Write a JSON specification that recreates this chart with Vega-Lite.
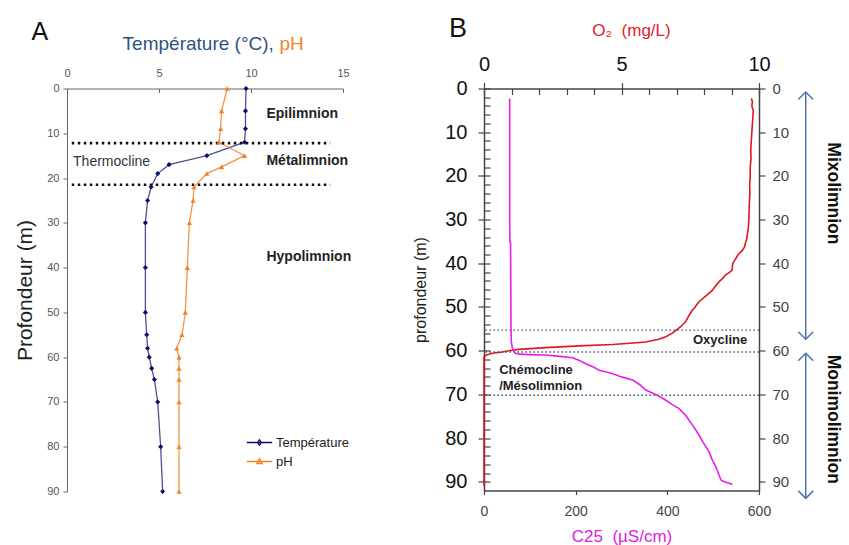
{
  "$schema": "https://vega.github.io/schema/vega-lite/v6.json",
  "background": "white",
  "padding": {"left": 14, "top": 14.5, "right": 0, "bottom": 0},
  "config": {
    "font": "Liberation Sans",
    "view": {"stroke": null},
    "axis": {"grid": false, "labelFlush": false, "labelOverlap": false, "titleFontWeight": "normal"},
    "text": {"font": "Liberation Sans"}
  },
  "bounds": "flush",
  "spacing": 141,
  "datasets": {
    "profileA": [
      {"depth": 0, "param": "Température", "value": 9.73},
      {"depth": 5, "param": "Température", "value": 9.7},
      {"depth": 9, "param": "Température", "value": 9.7},
      {"depth": 12, "param": "Température", "value": 9.65},
      {"depth": 15, "param": "Température", "value": 7.6},
      {"depth": 17, "param": "Température", "value": 5.55},
      {"depth": 19, "param": "Température", "value": 4.93},
      {"depth": 22, "param": "Température", "value": 4.57},
      {"depth": 25, "param": "Température", "value": 4.38},
      {"depth": 30, "param": "Température", "value": 4.26},
      {"depth": 40, "param": "Température", "value": 4.26},
      {"depth": 50, "param": "Température", "value": 4.26},
      {"depth": 55, "param": "Température", "value": 4.33},
      {"depth": 58, "param": "Température", "value": 4.38},
      {"depth": 60, "param": "Température", "value": 4.47},
      {"depth": 62.5, "param": "Température", "value": 4.6},
      {"depth": 65, "param": "Température", "value": 4.75},
      {"depth": 70, "param": "Température", "value": 4.93},
      {"depth": 80, "param": "Température", "value": 5.09},
      {"depth": 90, "param": "Température", "value": 5.2},
      {"depth": 0, "param": "pH", "value": 8.71},
      {"depth": 5, "param": "pH", "value": 8.4},
      {"depth": 9, "param": "pH", "value": 8.35},
      {"depth": 12, "param": "pH", "value": 8.26},
      {"depth": 15, "param": "pH", "value": 9.65},
      {"depth": 17.5, "param": "pH", "value": 8.4},
      {"depth": 19, "param": "pH", "value": 7.6},
      {"depth": 22, "param": "pH", "value": 6.9},
      {"depth": 25, "param": "pH", "value": 6.85},
      {"depth": 30, "param": "pH", "value": 6.65},
      {"depth": 40, "param": "pH", "value": 6.54},
      {"depth": 50, "param": "pH", "value": 6.43},
      {"depth": 55, "param": "pH", "value": 6.25},
      {"depth": 58, "param": "pH", "value": 5.96},
      {"depth": 60, "param": "pH", "value": 6.09},
      {"depth": 62.5, "param": "pH", "value": 6.09},
      {"depth": 65, "param": "pH", "value": 6.09},
      {"depth": 70, "param": "pH", "value": 6.09},
      {"depth": 80, "param": "pH", "value": 6.09},
      {"depth": 90, "param": "pH", "value": 6.09}
    ],
    "o2": [
      {"depth": 2.3, "o2": 9.72}, {"depth": 3, "o2": 9.76}, {"depth": 4, "o2": 9.74}, {"depth": 5, "o2": 9.79},
      {"depth": 6.5, "o2": 9.78}, {"depth": 8, "o2": 9.76}, {"depth": 10, "o2": 9.74}, {"depth": 12, "o2": 9.72},
      {"depth": 14, "o2": 9.7}, {"depth": 16, "o2": 9.71}, {"depth": 18, "o2": 9.68}, {"depth": 20, "o2": 9.68},
      {"depth": 22, "o2": 9.66}, {"depth": 24, "o2": 9.67}, {"depth": 26, "o2": 9.65}, {"depth": 28, "o2": 9.64},
      {"depth": 30, "o2": 9.63}, {"depth": 32, "o2": 9.61}, {"depth": 33.2, "o2": 9.58}, {"depth": 34.5, "o2": 9.55},
      {"depth": 35.5, "o2": 9.5}, {"depth": 36.3, "o2": 9.47}, {"depth": 37, "o2": 9.4}, {"depth": 37.6, "o2": 9.3},
      {"depth": 38.2, "o2": 9.22}, {"depth": 38.9, "o2": 9.16}, {"depth": 39.6, "o2": 9.08}, {"depth": 40.2, "o2": 9.04},
      {"depth": 41, "o2": 9.03}, {"depth": 41.6, "o2": 9.02}, {"depth": 42.2, "o2": 8.9}, {"depth": 42.7, "o2": 8.78},
      {"depth": 43.5, "o2": 8.67}, {"depth": 44.2, "o2": 8.55}, {"depth": 45.2, "o2": 8.42}, {"depth": 46.2, "o2": 8.3},
      {"depth": 47.5, "o2": 8.06}, {"depth": 48.8, "o2": 7.82}, {"depth": 49.6, "o2": 7.72}, {"depth": 50.2, "o2": 7.66},
      {"depth": 50.7, "o2": 7.58}, {"depth": 52, "o2": 7.45}, {"depth": 53.4, "o2": 7.33}, {"depth": 54.4, "o2": 7.17},
      {"depth": 55.1, "o2": 7.03}, {"depth": 56, "o2": 6.85}, {"depth": 56.8, "o2": 6.61}, {"depth": 57.4, "o2": 6.35},
      {"depth": 58, "o2": 5.88}, {"depth": 58.3, "o2": 5.3}, {"depth": 58.6, "o2": 4.67}, {"depth": 58.9, "o2": 3.45},
      {"depth": 59.3, "o2": 2.24}, {"depth": 59.7, "o2": 1.27}, {"depth": 60, "o2": 0.9}, {"depth": 60.3, "o2": 0.67},
      {"depth": 60.6, "o2": 0.3}, {"depth": 61, "o2": 0.08}, {"depth": 61.4, "o2": 0}, {"depth": 70, "o2": 0},
      {"depth": 80, "o2": 0}, {"depth": 91, "o2": 0}
    ],
    "c25": [
      {"depth": 2.3, "c25": 56}, {"depth": 10, "c25": 56}, {"depth": 20, "c25": 56}, {"depth": 30, "c25": 56},
      {"depth": 35, "c25": 56.5}, {"depth": 35.3, "c25": 58}, {"depth": 45, "c25": 58.5}, {"depth": 55, "c25": 59},
      {"depth": 58, "c25": 59.6}, {"depth": 59.5, "c25": 62}, {"depth": 60.3, "c25": 66}, {"depth": 60.6, "c25": 69},
      {"depth": 60.8, "c25": 76}, {"depth": 60.9, "c25": 100}, {"depth": 61, "c25": 135}, {"depth": 61.3, "c25": 165},
      {"depth": 61.6, "c25": 193}, {"depth": 62.2, "c25": 207}, {"depth": 63, "c25": 222}, {"depth": 63.8, "c25": 240},
      {"depth": 64.5, "c25": 251}, {"depth": 65.2, "c25": 280}, {"depth": 66, "c25": 300}, {"depth": 66.7, "c25": 324},
      {"depth": 67.8, "c25": 340}, {"depth": 69, "c25": 353}, {"depth": 70.2, "c25": 378}, {"depth": 71.3, "c25": 396},
      {"depth": 72.3, "c25": 410}, {"depth": 73.2, "c25": 425}, {"depth": 74.8, "c25": 440}, {"depth": 76, "c25": 448},
      {"depth": 77.5, "c25": 458}, {"depth": 79.3, "c25": 469}, {"depth": 81, "c25": 478}, {"depth": 83.1, "c25": 491},
      {"depth": 85, "c25": 498}, {"depth": 86.6, "c25": 506}, {"depth": 88, "c25": 511}, {"depth": 89.6, "c25": 517},
      {"depth": 90, "c25": 524}, {"depth": 90.3, "c25": 533}, {"depth": 90.6, "c25": 542}
    ],
    "zones": [
      {"zone": "Mixolimnion", "top": 0.8, "bottom": 57.4, "mid": 24},
      {"zone": "Monimolimnion", "top": 60.6, "bottom": 93.8, "mid": 75.7}
    ],
    "layersA": [
      {"label": "Epilimnion", "depth": 5.8},
      {"label": "Métalimnion", "depth": 16.3},
      {"label": "Hypolimnion", "depth": 37.7}
    ],
    "clinesA": [{"depth": 12.2}, {"depth": 21.5}],
    "clinesB": [{"depth": 55.3}, {"depth": 60.3}, {"depth": 70.2}]
  },
  "hconcat": [
    {
      "width": 276,
      "height": 403,
      "layer": [
        {
          "data": {"name": "profileA"},
          "transform": [{"filter": "datum.param === 'Température'"}],
          "mark": {"type": "line", "strokeWidth": 1.3, "opacity": 0.72, "color": "#0D0D6B"},
          "encoding": {
            "y": {"field": "depth", "type": "quantitative", "scale": {"domain": [0, 90], "reverse": true, "nice": false},
              "axis": {"values": [0, 10, 20, 30, 40, 50, 60, 70, 80, 90], "title": "Profondeur (m)", "titleFontSize": 21, "titleColor": "#222", "titlePadding": 11,
                "labelFontSize": 11, "labelColor": "#555", "tickSize": 4, "labelPadding": 4, "domainColor": "#666", "tickColor": "#666", "labelOverlap": false}},
            "x": {"field": "value", "type": "quantitative", "scale": {"domain": [0, 15], "nice": false},
              "axis": {"orient": "top", "values": [0, 5, 10, 15], "title": null, "labelFontSize": 11, "labelColor": "#555", "tickSize": -4, "labelPadding": 14,
                "domainColor": "#666", "tickColor": "#666", "labelOverlap": false}},
            "order": {"field": "depth", "type": "quantitative"}
          }
        },
        {
          "data": {"name": "profileA"},
          "transform": [{"filter": "datum.param === 'pH'"}],
          "mark": {"type": "line", "strokeWidth": 1.3, "opacity": 0.85, "color": "#F28225"},
          "encoding": {
            "y": {"field": "depth", "type": "quantitative", "scale": {"domain": [0, 90], "reverse": true, "nice": false}},
            "x": {"field": "value", "type": "quantitative", "scale": {"domain": [0, 15], "nice": false}},
            "order": {"field": "depth", "type": "quantitative"}
          }
        },
        {
          "data": {"name": "clinesA"},
          "mark": {"type": "rule", "strokeDash": [2.5, 3.5], "strokeWidth": 2.6, "color": "#111"},
          "encoding": {
            "y": {"field": "depth", "type": "quantitative", "scale": {"domain": [0, 90], "reverse": true, "nice": false}},
            "x": {"datum": 0.26, "scale": {"domain": [0, 15], "nice": false}},
            "x2": {"datum": 14.3}
          }
        },
        {
          "data": {"name": "profileA"},
          "transform": [{"filter": "datum.param === 'Température'"}],
          "mark": {"type": "point", "filled": true, "size": 26, "opacity": 1, "shape": "diamond", "color": "#0D0D6B"},
          "encoding": {
            "y": {"field": "depth", "type": "quantitative", "scale": {"domain": [0, 90], "reverse": true, "nice": false}},
            "x": {"field": "value", "type": "quantitative", "scale": {"domain": [0, 15], "nice": false}}
          }
        },
        {
          "data": {"name": "profileA"},
          "transform": [{"filter": "datum.param === 'pH'"}],
          "mark": {"type": "point", "filled": true, "size": 28, "opacity": 1, "shape": "triangle-up", "color": "#F28225"},
          "encoding": {
            "y": {"field": "depth", "type": "quantitative", "scale": {"domain": [0, 90], "reverse": true, "nice": false}},
            "x": {"field": "value", "type": "quantitative", "scale": {"domain": [0, 15], "nice": false}}
          }
        },
        {
          "data": {"name": "profileA"},
          "transform": [{"filter": "false"}],
          "mark": {"type": "point", "filled": false, "strokeWidth": 1.3, "opacity": 1},
          "encoding": {
            "color": {"field": "param", "type": "nominal",
              "scale": {"domain": ["Température", "pH"], "range": ["#0D0D6B", "#F28225"]},
              "legend": {"orient": "none", "legendX": 180.5, "legendY": 342, "title": null, "symbolSize": 484, "labelFontSize": 13, "labelColor": "#222",
                "labelOffset": 4.5, "rowPadding": 0, "padding": 0, "symbolStrokeWidth": 1.3}},
            "shape": {"field": "param", "type": "nominal",
              "scale": {"domain": ["Température", "pH"], "range": ["M-1.15,0H1.15M0,-0.24L0.18,0L0,0.24L-0.18,0Z", "M-1.15,0H1.15M0,-0.26L0.24,0.18L-0.24,0.18Z"]},
              "legend": {"orient": "none", "legendX": 180.5, "legendY": 342, "title": null, "symbolSize": 484, "labelFontSize": 13, "labelColor": "#222",
                "labelOffset": 4.5, "rowPadding": 0, "padding": 0, "symbolStrokeWidth": 1.3}}
          }
        },
        {
          "data": {"name": "layersA"},
          "mark": {"type": "text", "align": "left", "baseline": "middle", "fontSize": 14, "fontWeight": "bold", "color": "#222"},
          "encoding": {
            "y": {"field": "depth", "type": "quantitative", "scale": {"domain": [0, 90], "reverse": true, "nice": false}},
            "x": {"datum": 10.84, "scale": {"domain": [0, 15], "nice": false}},
            "text": {"field": "label"}
          }
        },
        {
          "data": {"values": [{}]},
          "mark": {"type": "text", "align": "left", "baseline": "middle", "fontSize": 14, "color": "#333"},
          "encoding": {
            "y": {"datum": 16.4, "scale": {"domain": [0, 90], "reverse": true, "nice": false}},
            "x": {"datum": 0.33, "scale": {"domain": [0, 15], "nice": false}},
            "text": {"value": "Thermocline"}
          }
        },
        {
          "data": {"values": [{}]},
          "mark": {"type": "text", "align": "right", "baseline": "alphabetic", "fontSize": 19, "color": "#2F5380"},
          "encoding": {
            "y": {"datum": -8.5, "scale": {"domain": [0, 90], "reverse": true, "nice": false}},
            "x": {"datum": 11.24, "scale": {"domain": [0, 15], "nice": false}},
            "text": {"value": "Température (°C),"}
          }
        },
        {
          "data": {"values": [{}]},
          "mark": {"type": "text", "align": "left", "baseline": "alphabetic", "fontSize": 19, "color": "#F28225"},
          "encoding": {
            "y": {"datum": -8.5, "scale": {"domain": [0, 90], "reverse": true, "nice": false}},
            "x": {"datum": 11.55, "scale": {"domain": [0, 15], "nice": false}},
            "text": {"value": "pH"}
          }
        },
        {
          "data": {"values": [{}]},
          "mark": {"type": "text", "align": "center", "baseline": "middle", "fontSize": 25, "color": "#111"},
          "encoding": {
            "y": {"datum": -12.6, "scale": {"domain": [0, 90], "reverse": true, "nice": false}},
            "x": {"datum": -1.47, "scale": {"domain": [0, 15], "nice": false}},
            "text": {"value": "A"}
          }
        }
      ]
    },
    {
      "width": 275,
      "height": 402,
      "layer": [
        {
          "layer": [
            {
              "data": {"name": "o2"},
              "mark": {"type": "line", "strokeWidth": 1.6, "color": "#E3151E"},
              "encoding": {
                "y": {"field": "depth", "type": "quantitative", "scale": {"domain": [0, 92], "reverse": true, "nice": false},
                  "axis": {"orient": "left", "values": [0, 10, 20, 30, 40, 50, 60, 70, 80, 90], "labelOverlap": false,
                    "title": "profondeur (m)", "titleFontSize": 16, "titleColor": "#222", "titlePadding": 16,
                    "labelFontSize": 20, "labelColor": "#111", "tickSize": 6, "labelPadding": 11,
                    "domainColor": "#444", "domainWidth": 1.5, "tickColor": "#444", "tickWidth": 1.2}},
                "x": {"field": "o2", "type": "quantitative", "scale": {"domain": [0, 10], "nice": false},
                  "axis": {"orient": "top", "values": [0, 5, 10], "labelOverlap": false,
                    "title": "O₂\u00a0 (mg/L)", "titleColor": "#E3212B", "titleFontSize": 17, "titlePadding": 15, "titleX": 147,
                    "labelFontSize": 20, "labelColor": "#111", "tickSize": 6, "labelPadding": 8,
                    "domainColor": "#444", "domainWidth": 1.5, "tickColor": "#444", "tickWidth": 1.2}},
                "order": {"field": "depth", "type": "quantitative"}
              }
            },
            {
              "data": {"name": "clinesB"},
              "mark": {"type": "rule", "strokeDash": [1.5, 2.5], "strokeWidth": 1.4, "color": "#3D4F7A"},
              "encoding": {
                "y": {"field": "depth", "type": "quantitative", "scale": {"domain": [0, 92], "reverse": true, "nice": false}}
              }
            },
            {
              "data": {"values": [{}]},
              "mark": {"type": "text", "align": "left", "baseline": "middle", "fontSize": 13, "fontWeight": "bold", "color": "#222"},
              "encoding": {
                "y": {"datum": 57.6, "scale": {"domain": [0, 92], "reverse": true, "nice": false}},
                "x": {"datum": 7.6, "scale": {"domain": [0, 10], "nice": false}},
                "text": {"value": "Oxycline"}
              }
            },
            {
              "data": {"values": [{}]},
              "mark": {"type": "text", "align": "left", "baseline": "middle", "fontSize": 13, "fontWeight": "bold", "color": "#222"},
              "encoding": {
                "y": {"datum": 64.5, "scale": {"domain": [0, 92], "reverse": true, "nice": false}},
                "x": {"datum": 0.55, "scale": {"domain": [0, 10], "nice": false}},
                "text": {"value": "Chémocline"}
              }
            },
            {
              "data": {"values": [{}]},
              "mark": {"type": "text", "align": "left", "baseline": "middle", "fontSize": 13, "fontWeight": "bold", "color": "#222"},
              "encoding": {
                "y": {"datum": 68.1, "scale": {"domain": [0, 92], "reverse": true, "nice": false}},
                "x": {"datum": 0.55, "scale": {"domain": [0, 10], "nice": false}},
                "text": {"value": "/Mésolimnion"}
              }
            },
            {
              "data": {"values": [{}]},
              "mark": {"type": "text", "align": "center", "baseline": "middle", "fontSize": 27, "color": "#111"},
              "encoding": {
                "y": {"datum": -13.7, "scale": {"domain": [0, 92], "reverse": true, "nice": false}},
                "x": {"datum": -0.95, "scale": {"domain": [0, 10], "nice": false}},
                "text": {"value": "B"}
              }
            },
            {
              "data": {"name": "zones"},
              "mark": {"type": "rule", "strokeWidth": 1.5, "color": "#4F74B0"},
              "encoding": {
                "y": {"field": "top", "type": "quantitative", "scale": {"domain": [0, 92], "reverse": true, "nice": false}},
                "y2": {"field": "bottom"},
                "x": {"datum": 11.7, "scale": {"domain": [0, 10], "nice": false}}
              }
            },
            {
              "data": {"name": "zones"},
              "mark": {"type": "point", "shape": "M-1,1L0,0L1,1", "filled": false, "strokeWidth": 1.5, "color": "#4F74B0", "size": 225, "opacity": 1},
              "encoding": {
                "y": {"field": "top", "type": "quantitative", "scale": {"domain": [0, 92], "reverse": true, "nice": false}},
                "x": {"datum": 11.7, "scale": {"domain": [0, 10], "nice": false}}
              }
            },
            {
              "data": {"name": "zones"},
              "mark": {"type": "point", "shape": "M-1,-1L0,0L1,-1", "filled": false, "strokeWidth": 1.5, "color": "#4F74B0", "size": 225, "opacity": 1},
              "encoding": {
                "y": {"field": "bottom", "type": "quantitative", "scale": {"domain": [0, 92], "reverse": true, "nice": false}},
                "x": {"datum": 11.7, "scale": {"domain": [0, 10], "nice": false}}
              }
            },
            {
              "data": {"name": "zones"},
              "mark": {"type": "text", "align": "center", "baseline": "middle", "angle": 90, "fontSize": 17.5, "fontWeight": "bold", "color": "#111"},
              "encoding": {
                "y": {"field": "mid", "type": "quantitative", "scale": {"domain": [0, 92], "reverse": true, "nice": false}},
                "x": {"datum": 12.68, "scale": {"domain": [0, 10], "nice": false}},
                "text": {"field": "zone"}
              }
            }
          ]
        },
        {
          "data": {"name": "c25"},
          "mark": {"type": "line", "strokeWidth": 1.6, "color": "#E81EE8"},
          "encoding": {
            "y": {"field": "depth", "type": "quantitative", "scale": {"domain": [0, 92], "reverse": true, "nice": false},
              "axis": {"orient": "right", "values": [0, 10, 20, 30, 40, 50, 60, 70, 80, 90], "title": null, "labelOverlap": false,
                "labelFontSize": 15, "labelColor": "#444", "tickSize": 6, "labelPadding": 7,
                "domainColor": "#444", "domainWidth": 1.5, "tickColor": "#444", "tickWidth": 1.2}},
            "x": {"field": "c25", "type": "quantitative", "scale": {"domain": [0, 600], "nice": false},
              "axis": {"orient": "bottom", "values": [0, 200, 400, 600], "title": "C25\u00a0 (µS/cm)", "titleColor": "#E020E0", "titleFontSize": 17, "titlePadding": 10, "labelOverlap": false,
                "labelFontSize": 14, "labelColor": "#444", "tickSize": 4, "labelPadding": 10,
                "domainColor": "#444", "domainWidth": 1.5, "tickColor": "#444", "tickWidth": 1.2}},
            "order": {"field": "depth", "type": "quantitative"}
          }
        },
        {
          "data": {"values": []},
          "mark": {"type": "point"},
          "encoding": {
            "y": {"field": "depth", "type": "quantitative", "scale": {"domain": [0, 92], "reverse": true, "nice": false},
              "axis": {"orient": "left", "values": [0, 2, 4, 6, 8, 10, 12, 14, 16, 18, 20, 22, 24, 26, 28, 30, 32, 34, 36, 38, 40, 42, 44, 46, 48, 50, 52, 54, 56, 58, 60, 62, 64, 66, 68, 70, 72, 74, 76, 78, 80, 82, 84, 86, 88, 90],
                "labels": false, "domain": false, "title": null, "tickSize": -6, "tickColor": "#444", "tickWidth": 1.2}},
            "x": {"field": "o2", "type": "quantitative", "scale": {"domain": [0, 10], "nice": false},
              "axis": {"orient": "top", "values": [0, 1, 2, 3, 4, 5, 6, 7, 8, 9, 10],
                "labels": false, "domain": false, "title": null, "tickSize": -6, "tickColor": "#444", "tickWidth": 1.2}}
          }
        }
      ],
      "resolve": {"scale": {"x": "independent"}, "axis": {"x": "independent", "y": "independent"}}
    }
  ]
}
